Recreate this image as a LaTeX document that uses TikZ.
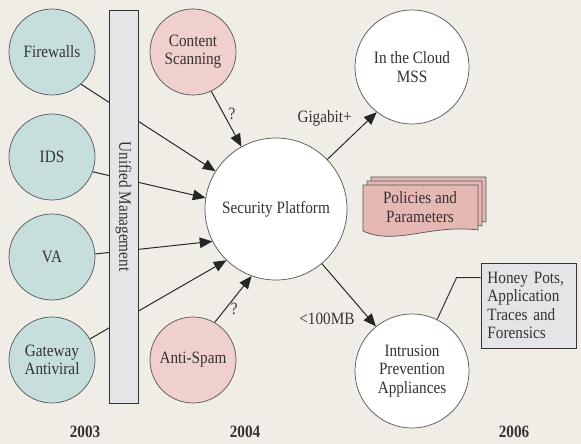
\documentclass[tikz,border=0pt]{standalone}
\usepackage{fontspec}
\setmainfont[FakeStretch=0.88]{Liberation Serif}
\usetikzlibrary{arrows.meta}

\definecolor{bgbeige}{RGB}{240,237,230}
\definecolor{tealfill}{RGB}{198,223,221}
\definecolor{pinkfill}{RGB}{239,208,205}
\definecolor{polfill}{RGB}{230,184,180}
\definecolor{boxgray}{RGB}{227,229,231}
\definecolor{txtgray}{RGB}{55,50,50}
\definecolor{edgegray}{RGB}{85,85,85}

\tikzset{
  basecirc/.style={circle, draw=edgegray, line width=0.5pt, align=center, inner sep=0pt},
  tealcirc/.style={basecirc, fill=tealfill, minimum size=2.15cm},
  pinkcirc/.style={basecirc, fill=pinkfill, minimum size=2.15cm},
  hubcirc/.style={basecirc, fill=white, minimum size=3.55cm},
  outcirc/.style={basecirc, fill=white, minimum size=2.85cm},
  umbar/.style={draw=txtgray, fill=boxgray, line width=0.6pt, minimum width=9.825cm, minimum height=0.725cm, inner sep=0pt},
  arr/.style={draw=black!85, line width=0.7pt, -{Triangle[length=9pt,width=7.5pt]}},
  conn/.style={draw=black!80, line width=0.7pt},
  hpbox/.style={draw=txtgray, fill=boxgray, line width=0.6pt, minimum width=2.375cm, minimum height=2.125cm, text width=2.05cm, align=left, inner sep=3pt},
  polpage/.style={draw=edgegray, fill=polfill, line width=0.5pt},
  yearlbl/.style={font=\fontsize{12.3}{13}\selectfont\bfseries}
}

\begin{document}
\begin{tikzpicture}[x=0.025cm,y=-0.025cm,font=\fontsize{12.3}{13}\selectfont,text=txtgray]
  \fill[bgbeige] (0,0) rectangle (581,444);

  \node[tealcirc] (fw) at (52,52) {Firewalls};
  \node[tealcirc] (ids) at (52,157) {IDS};
  \node[tealcirc] (va) at (52,257) {VA};
  \node[tealcirc] (gw) at (52,360) {Gateway\\Antiviral};
  \node[pinkcirc] (cs) at (193,52) {Content\\Scanning};
  \node[pinkcirc] (as) at (193,360) {Anti-Spam};
  \node[hubcirc] (sp) at (276,209) {Security Platform};
  \node[outcirc] (cloud) at (412,67) {In the Cloud\\MSS};
  \node[outcirc] (ipa) at (412,371) {Intrusion\\Prevention\\Appliances};

  \draw[arr] (fw.-48) -- (sp.148);
  \draw[arr] (ids.-20) -- (sp.171);
  \draw[arr] (va.4) -- (sp.207);
  \draw[arr] (gw.29) -- (sp.226);
  \node[umbar, rotate=-90] (um) at (123.5,206.5) {Unified Management};

  \draw[arr] (cs.-65) -- node[pos=0.4, right] (q1) {?} (sp.119);
  \draw[arr] (as.60) -- node[pos=0.3, right] (q2) {?} (sp.250);
  \draw[arr] (sp.44) -- node[pos=0.6, above left] (gig) {Gigabit+} (cloud.232);
  \draw[arr] (sp.-50) -- node[pos=0.7, below left] (mb) {<100MB} (ipa.129);

  \foreach \s in {8,4,0}
    \draw[polpage, shift={(\s,-\s)}] (363,185) -- (478,185) -- (478,230)
      .. controls (430,224) and (395,246) .. (363,231) -- cycle;
  \node[align=center] (pol) at (420,207) {Policies and\\Parameters};

  \node[hpbox] (hp) at (528.5,305.5) {Honey Pots,\\Application\\Traces and\\Forensics};
  \draw[conn] ([yshift=-10.7pt]hp.north west) -- ++(-24,0) -- (ipa.64);

  \node[yearlbl] (y3) at (85,432) {2003};
  \node[yearlbl] (y4) at (245,432) {2004};
  \node[yearlbl] (y6) at (514,432) {2006};
\end{tikzpicture}
\end{document}
